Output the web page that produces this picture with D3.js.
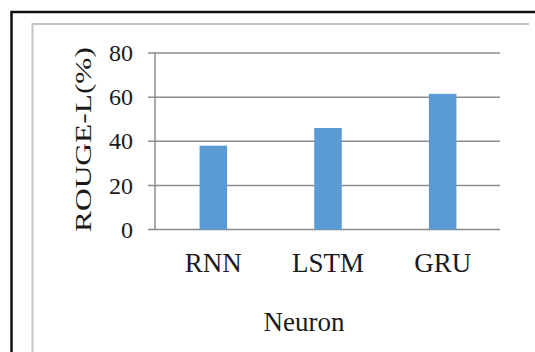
<!DOCTYPE html>
<html>
<head>
<meta charset="utf-8">
<script src="https://cdn.jsdelivr.net/npm/d3@7"></script>
<style>
  html, body { margin: 0; padding: 0; background: #fff; }
  svg { display: block; }
  text { font-family: "Liberation Serif", "Times New Roman", serif; fill: #1a1a1a; }
</style>
</head>
<body>
<svg id="chart" width="535" height="352"></svg>
<script>
const categories = ["RNN", "LSTM", "GRU"];
const values = [38, 46, 61.5];
const yTicks = [0, 20, 40, 60, 80];
const xTitle = "Neuron";
const yTitle = "ROUGE-L(%)";

const svg = d3.select("#chart");

// outer black border (cropped at right/bottom)
svg.append("path")
  .attr("d", "M11.5,352 L11.5,12 L540,12")
  .attr("fill", "none").attr("stroke", "#111").attr("stroke-width", 2.5);

// inner gray chart-area frame
svg.append("path")
  .attr("d", "M32.5,352 L32.5,24 L529,24")
  .attr("fill", "none").attr("stroke", "#c4c4c4").attr("stroke-width", 2);

const x = d3.scaleBand().domain(categories).range([156, 500])
  .paddingInner(0.76).paddingOuter(0.38);
const y = d3.scaleLinear().domain([0, 80]).range([229.5, 53]);

// gridlines
svg.append("g").selectAll("line").data(yTicks).join("line")
  .attr("x1", 148).attr("x2", 500)
  .attr("y1", d => y(d)).attr("y2", d => y(d))
  .attr("stroke", "#8c8c8c").attr("stroke-width", 1.5);

// y axis line
svg.append("line")
  .attr("x1", 155).attr("x2", 155)
  .attr("y1", y(80)).attr("y2", y(0))
  .attr("stroke", "#8c8c8c").attr("stroke-width", 1.5);

// bars
svg.append("g").selectAll("rect").data(values).join("rect")
  .attr("x", (d, i) => x(categories[i]))
  .attr("width", x.bandwidth())
  .attr("y", d => y(d))
  .attr("height", d => y(0) - y(d))
  .attr("fill", "#5b9bd5");

// y tick labels
svg.append("g").selectAll("text").data(yTicks).join("text")
  .attr("x", 133).attr("y", d => y(d))
  .attr("dy", "0.34em")
  .attr("text-anchor", "end")
  .attr("font-size", 24)
  .text(d => d);

// category labels
svg.append("g").selectAll("text").data(categories).join("text")
  .attr("x", d => x(d) + x.bandwidth() / 2)
  .attr("y", 272)
  .attr("text-anchor", "middle")
  .attr("font-size", 27)
  .text(d => d);

// x title
svg.append("text")
  .attr("x", 304).attr("y", 331)
  .attr("text-anchor", "middle")
  .attr("font-size", 27)
  .text(xTitle);

// y title
svg.append("text")
  .attr("transform", "translate(91,139.5) rotate(-90)")
  .attr("text-anchor", "middle")
  .attr("font-size", 24)
  .attr("textLength", 185)
  .attr("lengthAdjust", "spacingAndGlyphs")
  .text(yTitle);
</script>
</body>
</html>
